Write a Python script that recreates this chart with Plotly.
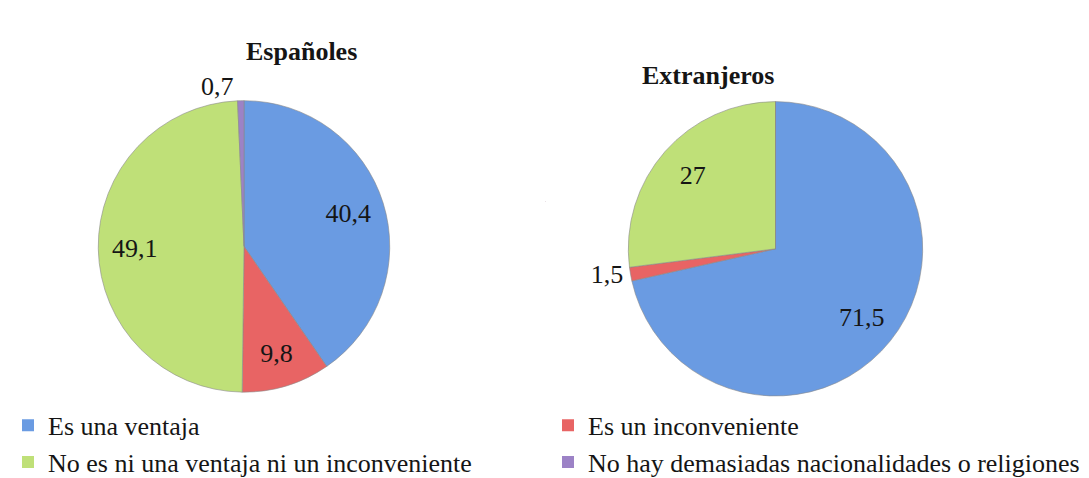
import plotly.graph_objects as go

categories = ["Es una ventaja", "Es un inconveniente",
              "No es ni una ventaja ni un inconveniente",
              "No hay demasiadas nacionalidades o religiones"]
espanoles = [40.4, 9.8, 49.1, 0.7]
extranjeros = [71.5, 1.5, 27, 0]
esp_text = ["40,4", "9,8", "49,1", "0,7"]
ext_text = ["71,5", "1,5", "27", ""]
esp_pos = ["inside", "inside", "inside", "outside"]
ext_pos = ["inside", "outside", "inside", "inside"]
titles = ["Españoles", "Extranjeros"]

colors = ["#6a9be2", "#e86464", "#bfe078", "#9c82c6"]
FONT = "Liberation Serif"
TXT = "#151515"

W, H = 1089, 478
MR = 14          # right margin (room for the legend's right padding)
PLOT_W = W - MR
PLOT_H = 402     # plot area height (bottom margin holds the legend)
LEG_TOP = 408    # legend top, px from the top


def clamp(v):
    return min(1.0, max(0.0, v))


def xdom(l_px, r_px):
    return [clamp(l_px / PLOT_W), clamp(r_px / PLOT_W)]


def ydom(top_px, bot_px):
    return [clamp((PLOT_H - bot_px) / PLOT_H), clamp((PLOT_H - top_px) / PLOT_H)]


dom_esp = dict(x=xdom(86, 386), y=ydom(96, 398))
dom_ext = dict(x=xdom(615, 920), y=ydom(97, 402))

fig = go.Figure()
for vals, dom in [(espanoles, dom_esp), (extranjeros, dom_ext)]:
    fig.add_trace(go.Pie(
        labels=categories, values=vals, textinfo="none",
        sort=False, direction="clockwise", rotation=0,
        marker=dict(colors=colors, line=dict(color="#8a8a8a", width=0.6)),
        domain=dom, showlegend=False, hoverinfo="label+value",
    ))
# label layer: transparent ring so labels sit at ~3/4 of the radius
for vals, txt, pos, dom in [(espanoles, esp_text, esp_pos, dom_esp),
                            (extranjeros, ext_text, ext_pos, dom_ext)]:
    fig.add_trace(go.Pie(
        labels=categories, values=vals, text=txt, textinfo="text",
        textposition=pos, insidetextorientation="horizontal", hole=0.5,
        sort=False, direction="clockwise", rotation=0,
        marker=dict(colors=["rgba(0,0,0,0)"] * 4, line=dict(width=0)),
        textfont=dict(family=FONT, size=26, color=TXT),
        domain=dom, showlegend=False, hoverinfo="skip",
    ))

# legend carriers: two-column legend (left column / right column)
for idx, leg in [([0, 2], "legend"), ([1, 3], "legend2")]:
    fig.add_trace(go.Pie(
        labels=[categories[i] for i in idx], values=[1, 1],
        marker=dict(colors=[colors[i] for i in idx], line=dict(width=0)),
        textinfo="none", sort=False, hoverinfo="skip",
        domain=dict(x=[0.5, 0.5004], y=[0.5, 0.501]),
        showlegend=True, legend=leg,
    ))

fig.add_annotation(text="<b>" + titles[0] + "</b>", x=236 / PLOT_W, y=(PLOT_H - 28) / PLOT_H,
                   xref="paper", yref="paper", showarrow=False,
                   font=dict(family=FONT, size=26, color=TXT))
fig.add_annotation(text="<b>" + titles[1] + "</b>", x=768 / PLOT_W, y=(PLOT_H - 53) / PLOT_H,
                   xref="paper", yref="paper", showarrow=False,
                   font=dict(family=FONT, size=26, color=TXT))

legend_common = dict(orientation="v", y=(PLOT_H - LEG_TOP) / PLOT_H, yanchor="top",
                     xanchor="left",
                     font=dict(family=FONT, size=26, color=TXT),
                     itemwidth=30, tracegroupgap=0, bgcolor="rgba(0,0,0,0)")
fig.update_layout(
    width=W, height=H,
    margin=dict(l=0, r=MR, t=0, b=H - PLOT_H),
    paper_bgcolor="white", plot_bgcolor="white",
    legend=dict(x=0, **legend_common),
    legend2=dict(x=540 / PLOT_W, **legend_common),
)

fig.write_html("out.html")
